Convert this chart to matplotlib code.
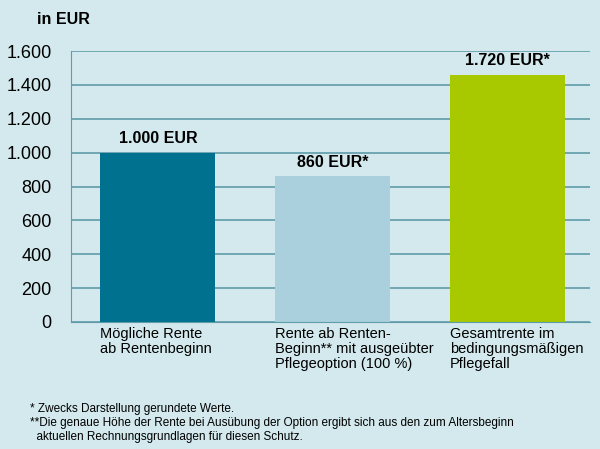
import matplotlib
matplotlib.use("Agg")
import matplotlib.pyplot as plt

categories = ["Mögliche Rente\nab Rentenbeginn",
              "Rente ab Renten-\nBeginn** mit ausgeübter\nPflegeoption (100 %)",
              "Gesamtrente im\nbedingungsmäßigen\nPflegefall"]
values = [1000, 860, 1460]
value_labels = ["1.000 EUR", "860 EUR*", "1.720 EUR*"]
yticks = [0, 200, 400, 600, 800, 1000, 1200, 1400, 1600]
ytick_labels = ["0", "200", "400", "600", "800", "1.000", "1.200", "1.400", "1.600"]
colors = ["#00718f", "#a9d0dc", "#a8c800"]
bg = "#d3e9ed"
grid = "#5f9ca8"

fig = plt.figure(figsize=(6, 4.49), dpi=100, facecolor=bg)
ax = fig.add_axes([71/600, 1-322/449, (590-71)/600, (322-51)/449], facecolor=bg)
x = [0, 1, 2]
ax.bar(x, values, width=0.657, color=colors, zorder=2)
ax.set_xlim(-0.497, 2.469)
ax.set_ylim(0, 1600)
ax.set_yticks(yticks)
ax.set_yticklabels(ytick_labels, fontsize=13, family="Liberation Sans")
ax.yaxis.grid(True, color=grid, linewidth=1.2, zorder=0)
ax.tick_params(axis="y", length=0, pad=14)
ax.set_xticks([])
for s in ["top", "right"]:
    ax.spines[s].set_visible(False)
ax.spines["left"].set_color(grid)
ax.spines["bottom"].set_color(grid)
for xi, v, l in zip(x, values, value_labels):
    ax.text(xi, v + 40, l, ha="center", va="bottom", fontsize=11.5, fontweight="bold", family="Liberation Sans")
for xi, c in zip(x, categories):
    ax.text(xi - 0.33, -30, c, ha="left", va="top", fontsize=10.5, family="Liberation Sans", linespacing=1.1)
fig.text(37/600, 1-20/449, "in EUR", fontsize=11.5, fontweight="bold", va="center", family="Liberation Sans")
fig.text(30/600, 1-403/449, "* Zwecks Darstellung gerundete Werte.\n**Die genaue Höhe der Rente bei Ausübung der Option ergibt sich aus den zum Altersbeginn\n  aktuellen Rechnungsgrundlagen für diesen Schutz.",
         fontsize=8.5, va="top", family="Liberation Sans", linespacing=1.2)
fig.savefig("out.png", dpi=100, facecolor=bg)
